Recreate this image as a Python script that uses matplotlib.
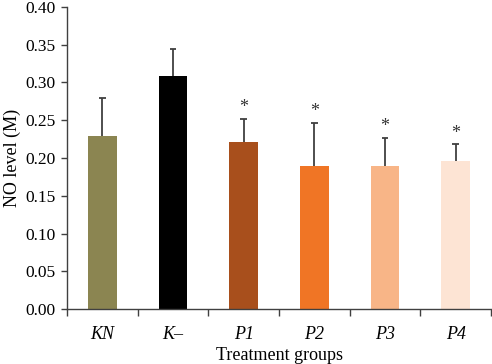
import numpy as np
import matplotlib.pyplot as plt

plt.rcParams['font.family'] = ['Liberation Serif', 'DejaVu Serif']

groups = ["KN", "K\u2013", "P1", "P2", "P3", "P4"]
means = [0.229, 0.309, 0.221, 0.190, 0.190, 0.196]
err_up = [0.051, 0.036, 0.031, 0.057, 0.037, 0.022]
stars = ["", "", "*", "*", "*", "*"]
colors = ["#8b8551", "#000000", "#a84f1c", "#f07525", "#f8b587", "#fde4d4"]

fig = plt.figure(figsize=(4.92, 3.64), dpi=100)
ax = fig.add_axes([67/492, 1-309/364, 424/492, 302/364])

x = np.arange(len(groups))
tops = np.array(means) + np.array(err_up)
ax.bar(x, means, width=0.41, color=colors, zorder=2)
# upper-only error bars
ax.vlines(x, means, tops, color="#404040", linewidth=1.3, zorder=3)
ax.hlines(tops, x - 0.045, x + 0.045, color="#404040", linewidth=1.3, zorder=3)
for xi, t, s in zip(x, tops, stars):
    if s:
        ax.text(xi, t + 0.003, s, ha="center", va="bottom", fontsize=13, color="#333333")

ax.set_xlim(-0.5, 5.5)
ax.set_ylim(0, 0.40)
ax.set_yticks(np.arange(0, 0.41, 0.05))
ax.set_yticklabels([f"{v:.2f}" for v in np.arange(0, 0.41, 0.05)])
ax.set_xticks(x)
ax.set_xticklabels(groups, style="italic")
ax.set_xticks(np.arange(-0.5, 6, 1), minor=True)
ax.tick_params(axis="x", which="major", length=0, pad=12, labelsize=13)
ax.tick_params(axis="x", which="minor", length=5, width=1, color="#404040")
ax.tick_params(axis="y", length=4.5, width=1, color="#404040", labelsize=12.5, pad=4)

for sp in ["top", "right"]:
    ax.spines[sp].set_visible(False)
for sp in ["left", "bottom"]:
    ax.spines[sp].set_color("#404040")
    ax.spines[sp].set_linewidth(1)

ax.set_ylabel("NO level (M)", fontsize=13, labelpad=3)
ax.set_xlabel("Treatment groups", fontsize=13, labelpad=3)

fig.savefig("out.png", dpi=100)
